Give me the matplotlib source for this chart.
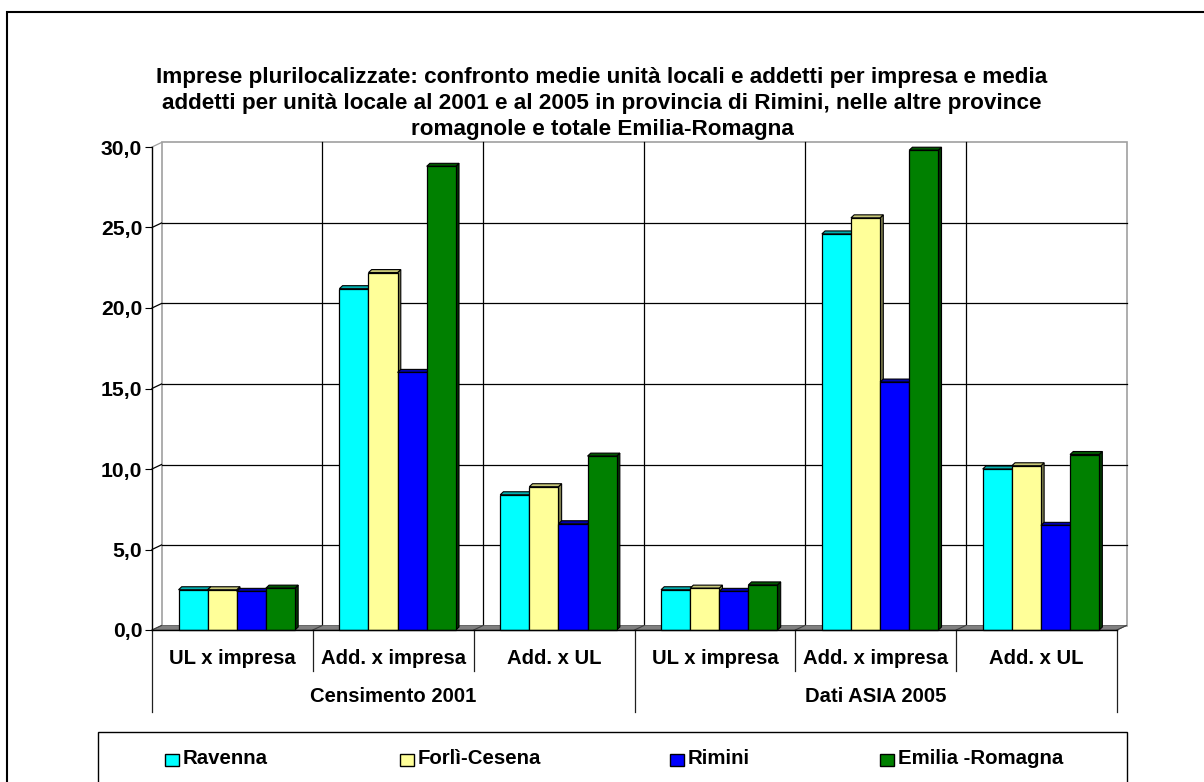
import matplotlib
matplotlib.use("Agg")
import matplotlib.pyplot as plt
from matplotlib.patches import Rectangle, Polygon
from matplotlib.lines import Line2D

plt.rcParams['font.family'] = ['Liberation Sans', 'DejaVu Sans']
plt.rcParams['font.weight'] = 'bold'

# ---------------- data ----------------
title_lines = [
    "Imprese plurilocalizzate: confronto medie unità locali e addetti per impresa e media",
    "addetti per unità locale al 2001 e al 2005 in provincia di Rimini, nelle altre province",
    "romagnole e totale Emilia-Romagna",
]
groups = ["Censimento 2001", "Dati ASIA 2005"]
measures = ["UL x impresa", "Add. x impresa", "Add. x UL"]
series_names = ["Ravenna", "Forlì-Cesena", "Rimini", "Emilia -Romagna"]
ravenna = [2.5, 21.2, 8.4, 2.5, 24.6, 10.0]
forli = [2.5, 22.2, 8.9, 2.6, 25.6, 10.2]
rimini = [2.4, 16.0, 6.6, 2.4, 15.4, 6.5]
emilia = [2.6, 28.8, 10.8, 2.8, 29.8, 10.9]
yticks = [0, 5, 10, 15, 20, 25, 30]
ytick_labels = ["0,0", "5,0", "10,0", "15,0", "20,0", "25,0", "30,0"]

series_values = [ravenna, forli, rimini, emilia]
front_colors = ["#00FFFF", "#FFFF99", "#0000FF", "#008000"]
top_colors = ["#00B0B0", "#C8C878", "#0000B0", "#005800"]
side_colors = ["#008080", "#808050", "#000080", "#003800"]

# ---------------- layout ----------------
W, H = 1204, 782
FS_TITLE = 16.2
FS_TICK = 15.2
FS_LABEL = 14.6
FS_LEG = 14.7
fig = plt.figure(figsize=(W / 100, H / 100), dpi=100)
fig.patch.set_facecolor("white")


def fx(x):
    return x / W


def fy(y):
    return 1 - y / H


ax_left, ax_right, ax_top, ax_bottom = 152, 1117, 147, 630
ax = fig.add_axes([fx(ax_left), fy(ax_bottom), (ax_right - ax_left) / W, (ax_bottom - ax_top) / H])
ncat = len(measures) * len(groups)
ax.set_xlim(0, ncat)
ax.set_ylim(0, 30)
ax.set_facecolor("none")
ax_w_px = ax_right - ax_left
ax_h_px = ax_bottom - ax_top
px_x = ncat / ax_w_px
px_y = 30 / ax_h_px

# depth of the 3D walls and bars (pixels -> data)
DX, DY = 9.5 * px_x, 4.5 * px_y
ddx, ddy = 3.2 * px_x, 3.0 * px_y

for s in ["top", "right"]:
    ax.spines[s].set_visible(False)
ax.spines["left"].set_linewidth(1.0)
ax.spines["bottom"].set_linewidth(1.0)
ax.spines["left"].set_zorder(6)
ax.spines["bottom"].set_zorder(6)

ax.set_yticks(yticks)
ax.set_yticklabels(ytick_labels, fontsize=FS_TICK, fontweight="bold")
ax.tick_params(axis="y", length=5, width=0.8, pad=2, direction="out")

centers = [i + 0.5 for i in range(ncat)]
ax.set_xticks(centers)
ax.set_xticklabels(measures * len(groups), fontsize=FS_LABEL, fontweight="bold")
ax.tick_params(axis="x", length=0, pad=14)

grid_c = "#000000"
wall_edge = "#A0A0A0"

# back wall
ax.add_patch(Rectangle((DX, DY), ncat, 30, facecolor="white", edgecolor=wall_edge,
                       lw=1.2, zorder=0.5, clip_on=False))
for v in yticks[1:-1]:
    ax.add_line(Line2D([DX, ncat + DX], [v + DY, v + DY], color=grid_c, lw=0.9,
                       zorder=0.6, clip_on=False))
for k in range(1, ncat):
    ax.add_line(Line2D([k + DX, k + DX], [DY, 30 + DY], color=grid_c, lw=0.9,
                       zorder=0.6, clip_on=False))
# left side wall diagonals
for v in yticks[1:]:
    ax.add_line(Line2D([0, DX], [v, v + DY], color=grid_c if v < 30 else wall_edge,
                       lw=0.9, zorder=0.7, clip_on=False))

# floor
ax.add_patch(Polygon([(0, 0), (ncat, 0), (ncat + DX, DY), (DX, DY)], closed=True,
                     facecolor="#808080", edgecolor="#606060", lw=0.6, zorder=1, clip_on=False))
for k in range(0, ncat + 1):
    ax.add_line(Line2D([k, k + DX], [0, DY], color="#404040", lw=0.8, zorder=1.1, clip_on=False))

# bars
bw = 0.181
start = 0.165
for j, (vals, fc, tc, sc) in enumerate(zip(series_values, front_colors, top_colors, side_colors)):
    for i, h in enumerate(vals):
        x0 = i + start + j * bw
        z = 2 + j * 0.1
        ax.add_patch(Polygon([(x0 + bw, 0), (x0 + bw + ddx, ddy), (x0 + bw + ddx, h + ddy), (x0 + bw, h)],
                             closed=True, facecolor=sc, edgecolor="black", lw=0.8, zorder=z, clip_on=False))
        ax.add_patch(Polygon([(x0, h), (x0 + bw, h), (x0 + bw + ddx, h + ddy), (x0 + ddx, h + ddy)],
                             closed=True, facecolor=tc, edgecolor="black", lw=0.8, zorder=z, clip_on=False))
    ax.bar([i + start + j * bw for i in range(ncat)], vals, width=bw, align="edge",
           color=fc, edgecolor="black", linewidth=0.9, zorder=2 + j * 0.1 + 0.05, clip_on=False)

# category separators below the floor
xa = ax.get_xaxis_transform()
short = -41 / ax_h_px
long_ = -82 / ax_h_px
for k in range(ncat + 1):
    outer = (k % len(measures) == 0)
    ax.add_line(Line2D([k, k], [0, long_ if outer else short], transform=xa, color="#202020",
                       lw=0.9, clip_on=False))
for g, name in enumerate(groups):
    ax.text(g * len(measures) + len(measures) / 2, -67 / ax_h_px, name, transform=xa,
            ha="center", va="center", fontsize=FS_LABEL, fontweight="bold")

# title
for n, line in enumerate(title_lines):
    fig.text(fx(602), fy(78 + 26 * n), line, ha="center", va="center",
             fontsize=FS_TITLE, fontweight="bold")

# outer frame (cropped at right/bottom in the reference)
fig.add_artist(Rectangle((fx(7), fy(800)), (1215 - 7) / W, (800 - 12) / H,
                         transform=fig.transFigure, fill=False, edgecolor="black", lw=1.5,
                         clip_on=False))

# legend box
fig.add_artist(Rectangle((fx(98), fy(800)), (1127 - 98) / W, (800 - 732) / H,
                         transform=fig.transFigure, fill=False, edgecolor="black", lw=1.0,
                         clip_on=False))
leg_x = [165, 400, 670, 880]
for xs, name, fc in zip(leg_x, series_names, front_colors):
    fig.add_artist(Rectangle((fx(xs), fy(766)), 14 / W, 12 / H, transform=fig.transFigure,
                             facecolor=fc, edgecolor="black", lw=1.0))
    fig.text(fx(xs + 18), fy(759), name, ha="left", va="center", fontsize=FS_LEG, fontweight="bold")

fig.savefig("out.png", dpi=100)
